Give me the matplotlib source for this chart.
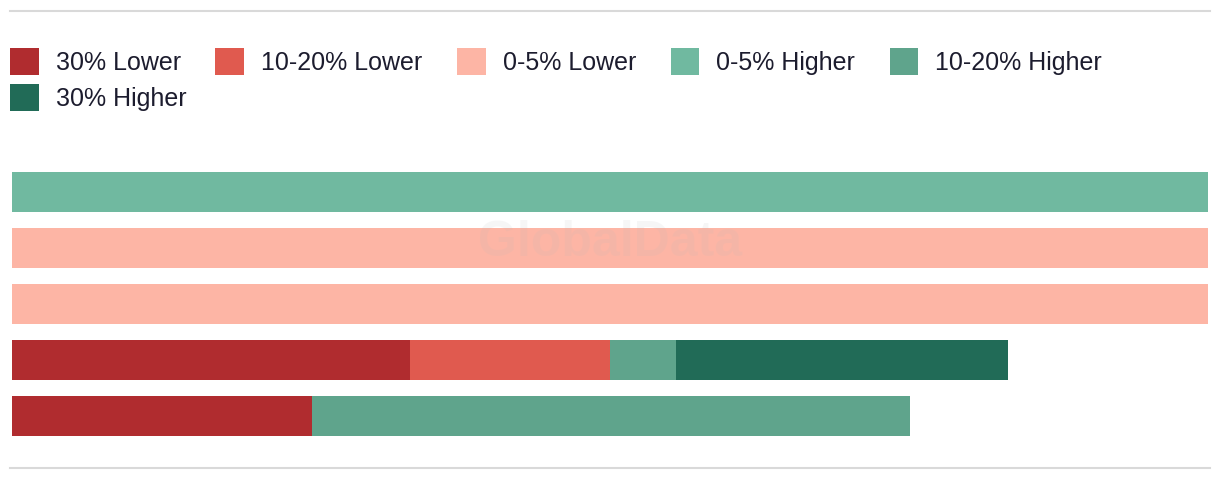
import matplotlib

matplotlib.use("Agg")
import matplotlib.pyplot as plt
import numpy as np
from matplotlib.lines import Line2D
from matplotlib.patches import Patch

# rows top to bottom; values are % of the full bar width
rows = ["A", "B", "C", "D", "E"]
series = ["30% Lower", "10-20% Lower", "0-5% Lower", "0-5% Higher", "10-20% Higher", "30% Higher"]
lower_30 = [0, 0, 0, 33.3, 25.1]
lower_10_20 = [0, 0, 0, 16.7, 0]
lower_0_5 = [0, 100, 100, 0, 0]
higher_0_5 = [100, 0, 0, 0, 0]
higher_10_20 = [0, 0, 0, 5.5, 50.0]
higher_30 = [0, 0, 0, 27.8, 0]

colors = ["#b02c2f", "#e05a4f", "#fdb5a5", "#70b9a0", "#5fa48c", "#216b57"]
values = [lower_30, lower_10_20, lower_0_5, higher_0_5, higher_10_20, higher_30]

plt.rcParams["font.family"] = ["Liberation Sans", "DejaVu Sans"]

W, H = 1220, 482
fig = plt.figure(figsize=(W / 100, H / 100), dpi=100)
ax = fig.add_axes([12 / W, 1 - 436 / H, 1196 / W, 264 / H])

y = np.arange(len(rows))
left = np.zeros(len(rows))
for vals, col in zip(values, colors):
    vals = np.array(vals, dtype=float)
    ax.barh(y, vals, left=left, height=40 / 56, color=col, linewidth=0)
    left += vals

ax.set_xlim(0, 100)
half = 0.5 * 40 / 56
ax.set_ylim(len(rows) - 1 + half, -half)
ax.axis("off")

# watermark
fig.text(0.5, 1 - 243 / H, "GlobalData", ha="center", va="center",
         fontsize=36, fontweight="bold", color="#bbbbbb", alpha=0.12)

# top and bottom rules
for yy in (11, 468):
    fig.add_artist(Line2D([10 / W, 1210 / W], [1 - yy / H, 1 - yy / H],
                          color="#d9d9d9", linewidth=1.5))

# legend flows left to right, wrapping the last entry onto a second line
handles = [Patch(facecolor=c, edgecolor="none") for c in colors]
leg_kw = dict(loc="upper left", frameon=False, fontsize=18, labelcolor="#1c1c2e",
              handlelength=1.15, handleheight=1.3, handletextpad=0.68,
              columnspacing=1.38, borderpad=0, borderaxespad=0)
fig.legend(handles[:5], series[:5], bbox_to_anchor=(10 / W, 1 - 48 / H), ncol=5, **leg_kw)
fig.legend(handles[5:], series[5:], bbox_to_anchor=(10 / W, 1 - 84 / H), ncol=1, **leg_kw)

fig.savefig("out.png", dpi=100)
